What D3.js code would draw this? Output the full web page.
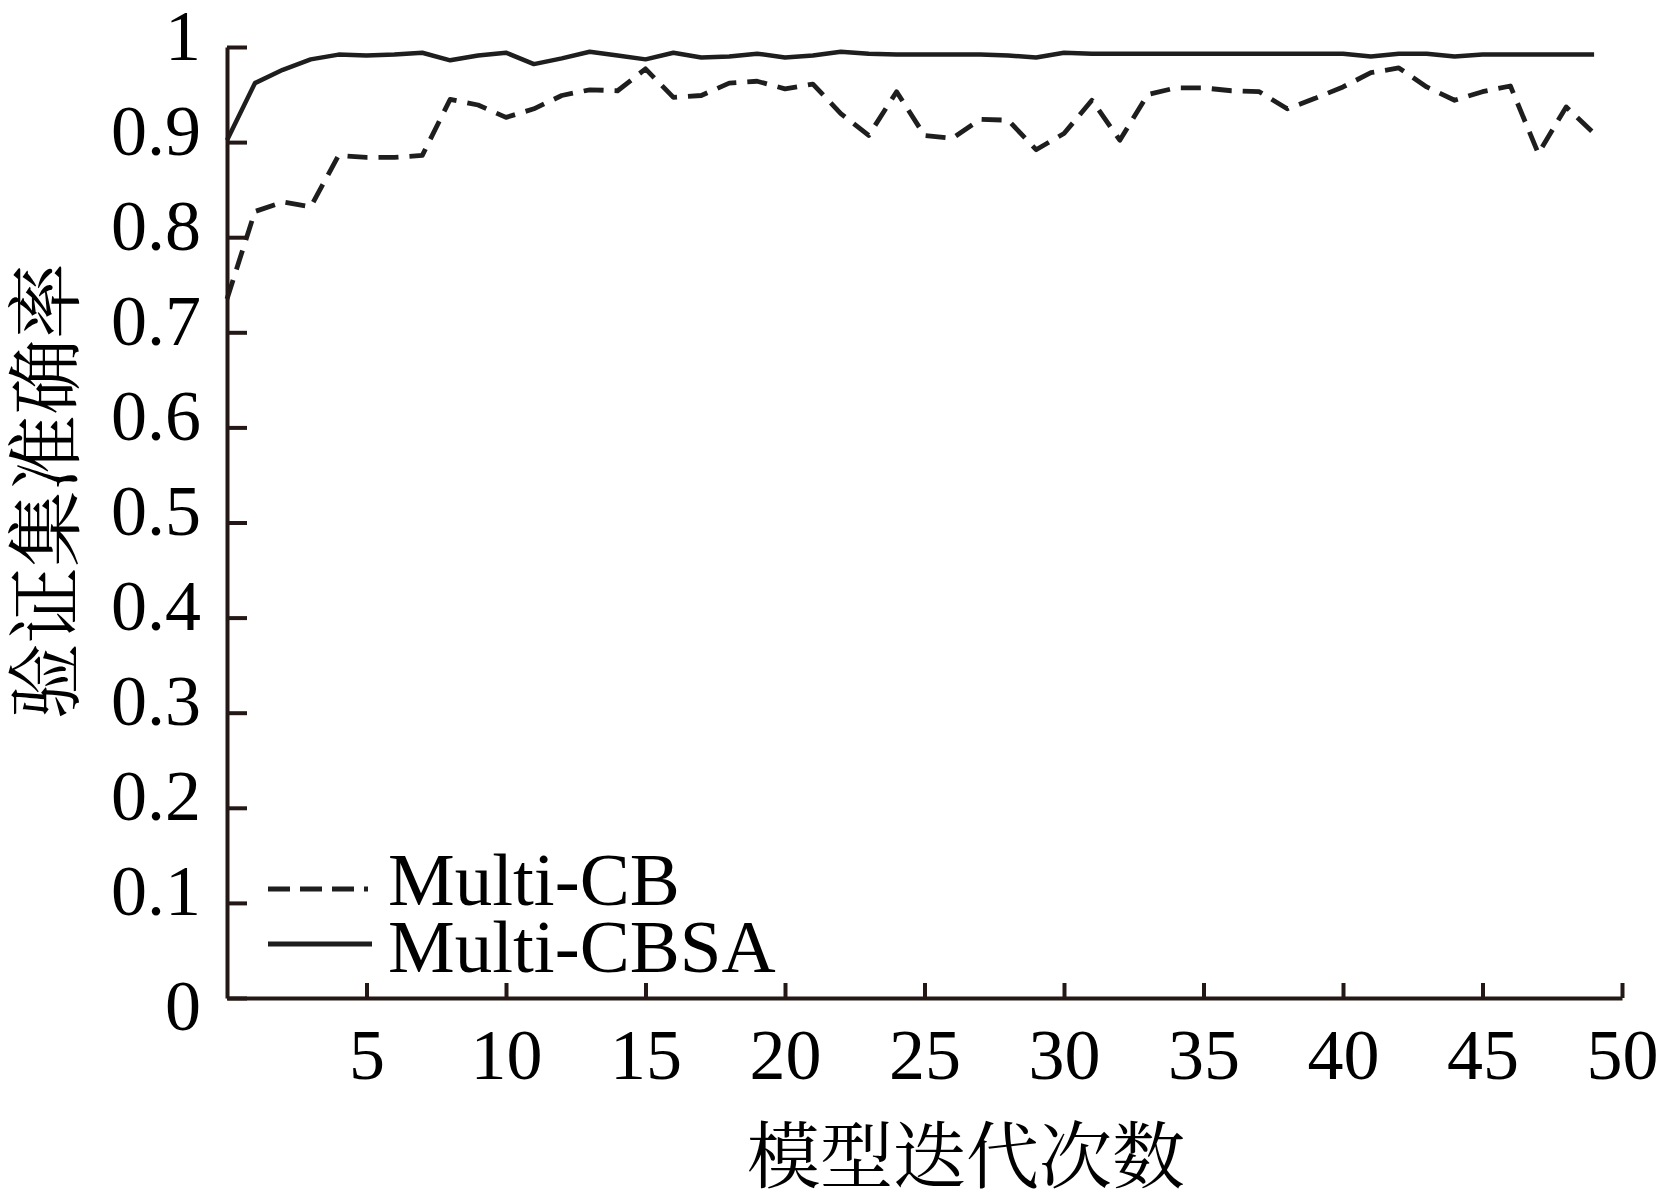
<!DOCTYPE html>
<html>
<head>
<meta charset="utf-8">
<script src="https://cdn.jsdelivr.net/npm/d3@7"></script>
<style>
  html, body { margin: 0; padding: 0; background: #fff; }
  svg { display: block; }
</style>
</head>
<body>
<svg id="chart" width="1657" height="1193"></svg>
<script>
// ---- data ----
const iterations = d3.range(0, 50);
const multiCB = [0.735, 0.827, 0.837, 0.832, 0.886, 0.884, 0.884, 0.886, 0.945, 0.939,
                 0.926, 0.935, 0.949, 0.955, 0.954, 0.977, 0.947, 0.949, 0.962, 0.964,
                 0.956, 0.961, 0.930, 0.907, 0.953, 0.907, 0.904, 0.924, 0.923, 0.892,
                 0.909, 0.944, 0.902, 0.950, 0.957, 0.957, 0.954, 0.953, 0.935, 0.946,
                 0.958, 0.973, 0.978, 0.958, 0.944, 0.953, 0.959, 0.888, 0.937, 0.909];
const multiCBSA = [0.902, 0.962, 0.976, 0.987, 0.992, 0.991, 0.992, 0.994, 0.986, 0.991,
                   0.994, 0.982, 0.988, 0.995, 0.991, 0.987, 0.994, 0.989, 0.990, 0.993,
                   0.989, 0.991, 0.995, 0.993, 0.992, 0.992, 0.992, 0.992, 0.991, 0.989,
                   0.994, 0.993, 0.993, 0.993, 0.993, 0.993, 0.993, 0.993, 0.993, 0.993,
                   0.993, 0.990, 0.993, 0.993, 0.990, 0.992, 0.992, 0.992, 0.992, 0.992];
const xTicks = [5, 10, 15, 20, 25, 30, 35, 40, 45, 50];
const yTicks = [0, 0.1, 0.2, 0.3, 0.4, 0.5, 0.6, 0.7, 0.8, 0.9, 1];
const seriesNames = ["Multi-CB", "Multi-CBSA"];
const xTitle = "模型迭代次数";
const yTitle = "验证集准确率";

// ---- layout ----
const svg = d3.select("#chart");
const axisColor = "#231815";
const lineColor = "#1e1e1e";
const numFont = "'Liberation Serif', 'Times New Roman', serif";
const cjkFont = "'Noto Serif CJK SC', 'Noto Sans CJK SC', sans-serif";

const x = d3.scaleLinear().domain([0, 50]).range([227, 1622]);
const y = d3.scaleLinear().domain([0, 1]).range([998, 47]);

// lines
const line = d3.line().x((d, i) => x(iterations[i])).y(d => y(d));

svg.append("path")
  .datum(multiCB)
  .attr("d", line)
  .attr("fill", "none")
  .attr("stroke", lineColor)
  .attr("stroke-width", 4.8)
  .attr("stroke-dasharray", "20,11")
  .attr("stroke-linejoin", "round");

svg.append("path")
  .datum(multiCBSA)
  .attr("d", line)
  .attr("fill", "none")
  .attr("stroke", lineColor)
  .attr("stroke-width", 4.5)
  .attr("stroke-linejoin", "round");

// y axis
const yAxis = svg.append("g")
  .attr("transform", `translate(${x(0)},0)`)
  .call(d3.axisLeft(y).tickValues(yTicks).tickSizeInner(-20).tickSizeOuter(0).tickPadding(26)
    .tickFormat(d => d === 0 ? "0" : d === 1 ? "1" : d.toFixed(1)));
yAxis.select(".domain").attr("stroke", axisColor).attr("stroke-width", 4);
yAxis.selectAll(".tick line").attr("stroke", axisColor).attr("stroke-width", 4);
yAxis.selectAll(".tick text")
  .attr("fill", "#000")
  .attr("font-family", numFont)
  .attr("font-size", 72)
  .attr("dy", null)
  .attr("y", d => d === 0 ? 31 : 12);

// x axis
const xAxis = svg.append("g")
  .attr("transform", `translate(0,${y(0)})`)
  .call(d3.axisBottom(x).tickValues(xTicks).tickSizeInner(-15).tickSizeOuter(0).tickPadding(0));
xAxis.select(".domain").attr("stroke", axisColor).attr("stroke-width", 4);
xAxis.selectAll(".tick line").attr("stroke", axisColor).attr("stroke-width", 4);
xAxis.selectAll(".tick text")
  .attr("fill", "#000")
  .attr("font-family", numFont)
  .attr("font-size", 72)
  .attr("dy", null)
  .attr("y", 81);

// axis titles
svg.append("text")
  .attr("x", 966).attr("y", 1150)
  .attr("text-anchor", "middle")
  .attr("dominant-baseline", "central")
  .attr("font-family", cjkFont)
  .attr("font-size", 73)
  .attr("fill", "#000")
  .text(xTitle);

svg.append("text")
  .attr("transform", "translate(40,491) rotate(-90)")
  .attr("text-anchor", "middle")
  .attr("dominant-baseline", "central")
  .attr("font-family", cjkFont)
  .attr("font-size", 76)
  .attr("fill", "#000")
  .text(yTitle);

// legend
const legend = svg.append("g");
const legendRows = [
  { name: seriesNames[0], dash: "22,10", ly: 889, ty: 905, x2: 368 },
  { name: seriesNames[1], dash: null, ly: 944, ty: 972, x2: 372 }
];
legendRows.forEach(r => {
  legend.append("line")
    .attr("x1", 268).attr("x2", r.x2)
    .attr("y1", r.ly).attr("y2", r.ly)
    .attr("stroke", lineColor)
    .attr("stroke-width", 4.8)
    .attr("stroke-dasharray", r.dash);
  legend.append("text")
    .attr("x", 388).attr("y", r.ty)
    .attr("font-family", numFont)
    .attr("font-size", 75)
    .attr("fill", "#000")
    .text(r.name);
});
</script>
</body>
</html>
